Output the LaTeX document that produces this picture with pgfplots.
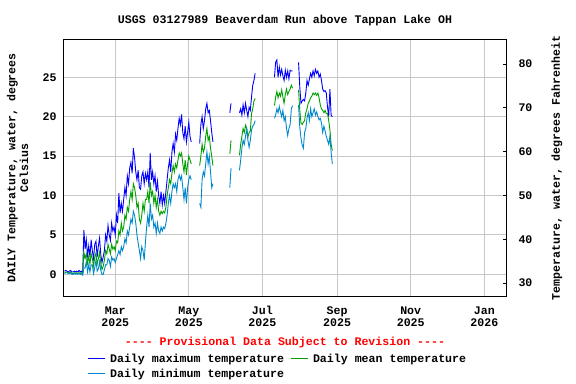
\documentclass[border=0pt]{standalone}
\usepackage{fontspec}
\setmainfont{Liberation Mono}
\usepackage{pgfplots}
\usepackage{pgfplotstable}
\pgfplotsset{compat=1.18}
\definecolor{cmax}{RGB}{0,0,255}
\definecolor{cmean}{RGB}{0,160,0}
\definecolor{cmin}{RGB}{0,136,204}
\definecolor{gridc}{RGB}{200,200,200}
\def\dsh{-\kern0pt-\kern0pt-\kern0pt-}

\pgfplotstableread{
d mx mn lo
17 0.4 0.2 0.1
18 0.5 0.3 0.2
19 0.4 0.3 0.2
20 0.3 0.2 0.1
21 0.4 0.2 0.1
22 0.5 0.3 0.2
23 0.3 0.1 0.0
24 0.3 0.1 0.0
25 0.4 0.2 0.1
26 0.3 0.1 0.0
27 0.4 0.2 0.1
28 0.3 0.1 0.0
29 0.5 0.2 0.1
30 0.3 0.1 0.0
31 0.4 0.2 0.1
32 0.3 0.0 -0.1
33 5.6 2.8 0.8
34 3.2 2.0 0.8
35 4.4 2.6 1.6
36 2.4 1.4 0.3
37 3.6 2.3 1.2
38 2.2 1.3 0.3
39 4.4 2.6 1.2
40 3.0 2.0 1.2
41 2.0 1.0 0.1
42 3.8 2.2 0.8
43 4.2 2.7 1.8
44 2.2 1.3 0.4
45 3.6 2.0 0.7
46 4.6 2.8 1.6
47 2.5 1.4 0.5
48 1.5 0.6 0.0
49 2.2 1.0 0.0
50 3.0 1.8 0.6
51 5.0 3.0 1.2
52 4.2 2.6 1.2
53 6.2 3.8 2.0
54 5.0 3.2 1.8
55 4.3 2.6 1.0
56 6.5 3.8 2.2
57 5.5 3.2 1.8
58 6.0 3.5 2.0
59 5.0 3.0 1.5
60 7.5 4.2 2.0
61 6.5 4.0 2.5
62 10.3 5.5 3.0
63 7.8 5.0 2.5
64 9.0 6.5 3.5
65 8.0 5.5 3.0
66 9.5 6.0 3.5
67 11.0 7.5 4.5
68 10.0 7.0 4.0
69 12.5 8.5 5.5
70 11.5 8.0 5.0
71 13.5 9.5 6.0
72 14.2 10.5 7.0
73 12.8 9.5 6.5
74 16.0 11.5 8.0
75 14.8 11.0 7.5
76 13.0 10.0 6.5
77 12.0 8.5 5.0
78 13.2 9.0 4.0
79 11.0 7.0 3.0
80 10.8 6.5 2.0
81 12.5 7.5 3.5
82 13.0 9.0 3.0
83 11.5 8.0 1.8
84 12.8 9.5 4.0
85 12.0 9.5 6.0
86 13.0 10.5 7.5
87 11.0 9.0 6.0
88 15.4 11.7 9.0
89 12.0 10.0 7.0
90 13.0 10.5 7.5
91 11.5 9.0 6.0
92 12.5 10.0 6.5
93 10.5 8.5 5.2
94 11.8 9.5 6.5
95 10.0 8.0 5.5
96 9.0 7.5 5.2
97 10.5 8.0 6.0
98 8.8 7.7 5.5
99 10.0 8.0 6.0
100 9.0 7.8 5.8
101 10.5 8.5 6.5
102 12.0 10.0 7.5
103 13.5 11.0 9.0
104 14.5 12.0 10.0
105 13.0 11.5 9.0
106 15.5 12.8 10.5
107 16.6 13.8 11.5
108 15.5 13.0 11.0
109 17.8 14.0 11.5
110 17.0 13.5 10.5
111 18.5 14.5 12.0
112 19.8 15.4 12.6
113 19.0 15.0 12.0
114 20.3 15.4 12.5
115 18.0 14.0 11.0
116 17.2 13.0 9.5
117 18.8 14.5 11.0
118 16.8 12.6 9.0
119 18.0 14.0 11.0
120 19.3 15.0 12.0
121 17.5 14.5 12.5
122 16.8 14.0 12.0
125 nan nan nan
129 16.6 13.8 9.0
130 19.0 15.0 8.5
131 20.0 16.5 12.0
132 18.5 15.5 13.0
133 19.5 16.0 12.5
134 21.0 17.5 14.0
135 21.7 18.5 15.5
136 20.5 17.0 14.0
137 20.8 17.5 15.0
138 19.5 16.0 13.0
139 18.0 15.0 11.0
140 16.8 13.8 11.5
147 nan nan nan
154 20.5 15.3 11.0
155 21.7 17.0 13.5
158 nan nan nan
162 20.5 15.1 13.2
163 21.0 16.5 14.5
164 20.2 17.5 16.0
165 21.5 18.5 17.0
166 20.5 18.0 16.5
167 21.7 18.9 17.5
168 20.8 18.5 18.5
169 20.0 17.4 17.0
170 21.2 18.0 16.1
171 20.8 18.2 17.0
172 22.5 20.4 18.3
173 24.0 21.0 18.8
174 24.6 22.0 19.0
175 25.5 22.3 19.5
183 nan nan nan
191 25.0 21.4 19.8
192 26.9 22.5 20.2
193 27.2 23.2 21.0
194 25.0 22.4 20.5
195 26.3 23.0 21.3
196 25.3 22.6 20.6
197 26.0 23.4 20.0
198 25.2 22.5 20.8
199 24.6 21.7 19.5
200 25.9 22.8 20.0
201 25.0 23.5 18.5
202 25.8 22.8 17.6
203 24.8 23.2 18.5
204 25.9 23.5 19.0
205 25.8 24.0 21.0
206 25.8 23.6 21.4
208 nan nan nan
211 26.9 23.4 21.5
212 23.8 20.8 18.7
213 21.7 19.2 17.3
214 22.0 19.0 16.4
215 22.2 19.3 16.0
216 22.0 19.5 18.0
217 23.0 20.5 18.5
218 24.6 21.0 19.8
219 24.0 21.7 20.5
220 24.8 22.0 19.5
221 25.5 22.4 21.0
222 25.0 22.6 20.0
223 25.8 23.0 20.5
224 25.2 22.8 21.0
225 26.0 23.0 20.2
226 25.5 22.7 20.6
227 25.8 23.0 20.0
228 25.0 22.4 19.6
229 25.4 21.5 19.8
230 24.6 21.0 19.2
231 23.5 20.8 18.0
232 23.2 20.5 18.8
233 23.3 20.8 18.2
234 23.0 20.4 17.5
235 21.2 20.4 17.0
236 20.0 19.5 16.5
237 23.5 18.3 17.5
238 20.2 16.5 15.5
239 20.0 15.7 14.0
}\data

\begin{document}
\begin{tikzpicture}
\useasboundingbox (-64bp,-87.3bp) rectangle (512bp,296.7bp);
\begin{axis}[
  scale only axis, width=442bp, height=257.4bp,
  at={(0,0)}, anchor=south west,
  xmin=16.5, xmax=383, ymin=-2.84, ymax=29.82,
  clip=false,
  font=\fontsize{11.6bp}{12.7bp}\selectfont\bfseries,
  /pgf/number format/assume math mode=true,
  xtick={59,120,181,243,304,365},
  xticklabels={{\strut Mar\\2025},{\strut May\\2025},{\strut Jul\\2025},{\strut Sep\\2025},{\strut Nov\\2025},{\strut Jan\\2026}},
  xticklabel style={align=center, yshift=-5bp},
  ytick={0,5,...,25},
  yticklabel style={xshift=-4bp},
  grid=major, grid style={gridc, line width=1bp},
  major tick length=0pt,
  tick pos=left,
  axis line style={line width=1bp},
  ylabel={DAILY Temperature, water, degrees\\Celsius},
  ylabel style={align=center, at={(axis description cs:-0.105,0.5)}, anchor=center},
  title={USGS 03127989 Beaverdam Run above Tappan Lake OH},
  title style={at={(axis description cs:0.5,1)}, anchor=center, yshift=13.3bp},
  unbounded coords=jump,
  legend columns=2,
  legend cell align=left,
  legend style={draw=none, fill=none, at={(axis description cs:0.052,-0.213)}, anchor=north west,
    inner sep=0pt, font=\fontsize{11.6bp}{12.7bp}\selectfont\bfseries,
    row sep=1.3bp,
    /tikz/every odd column/.append style={column sep=3bp},
    /tikz/every even column/.append style={column sep=4bp}},
]
\addplot[cmax, line width=0.9bp] table[x=d, y=mx] {\data};
\addlegendentry{Daily maximum temperature}
\addplot[cmean, line width=0.9bp] table[x=d, y=mn] {\data};
\addlegendentry{Daily mean temperature}
\addplot[cmin, line width=0.9bp] table[x=d, y=lo] {\data};
\addlegendentry{Daily minimum temperature}
\node[text=red, anchor=center, font=\fontsize{11.6bp}{12.7bp}\selectfont\bfseries] at (axis description cs:0.5,-0.1787) {\dsh{} Provisional Data Subject to Revision \dsh};
\end{axis}
\begin{axis}[
  scale only axis, width=442bp, height=257.4bp,
  at={(0,0)}, anchor=south west,
  xmin=16.5, xmax=383, ymin=26.89, ymax=85.68,
  font=\fontsize{11.6bp}{12.7bp}\selectfont\bfseries,
  /pgf/number format/assume math mode=true,
  axis x line=none, axis y line*=right,
  axis line style={line width=1bp},
  ytick={30,40,...,80},
  tick align=inside, major tick length=3.3bp,
  tick style={line width=1bp, black},
  yticklabel style={xshift=9bp},
  ylabel={Temperature, water, degrees Fahrenheit},
  ylabel style={at={(axis description cs:1.115,0.5)}, anchor=center},
]
\addplot[draw=none] coordinates {(20,30)};
\end{axis}
\end{tikzpicture}
\end{document}
